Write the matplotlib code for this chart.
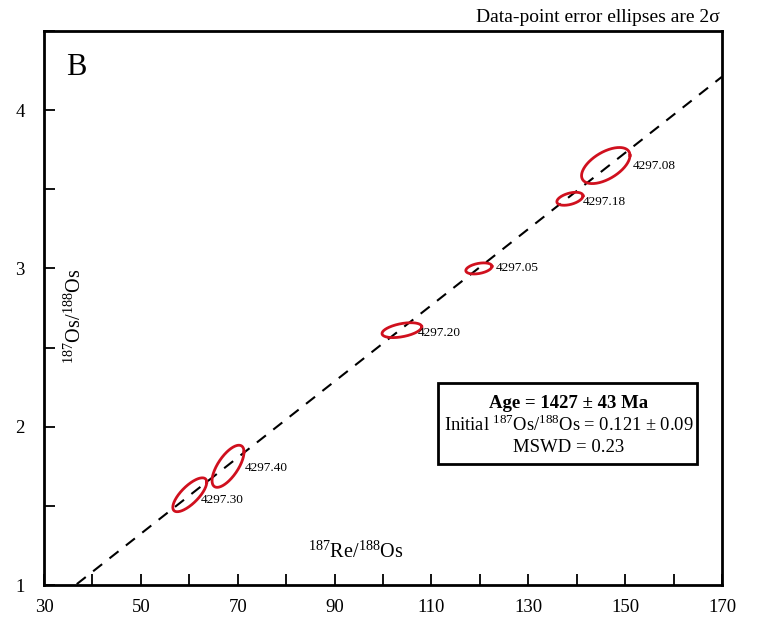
import matplotlib.pyplot as plt
import numpy as np
from matplotlib.patches import Rectangle

plt.rcParams['font.family'] = ['Liberation Serif', 'DejaVu Serif']
plt.rcParams['mathtext.fontset'] = 'custom'
plt.rcParams['mathtext.rm'] = 'Liberation Serif'

# sample data: 187Re/188Os, 187Os/188Os, 2-sigma half extents, error correlation
samples = ["4297.30", "4297.40", "4297.20", "4297.05", "4297.18", "4297.08"]
re_os = [60.1, 68.0, 103.9, 119.8, 138.6, 146.0]
os_os = [1.57, 1.75, 2.61, 3.00, 3.44, 3.65]
err_x = [3.5, 3.3, 4.1, 2.7, 2.7, 5.0]
err_y = [0.107, 0.133, 0.047, 0.035, 0.041, 0.114]
rho = [0.74, 0.68, 0.45, 0.38, 0.45, 0.56]
# label offsets (points) from ellipse centre
lab_dx = [8, 12, 11.5, 12, 9.5, 19.5]
lab_dy = [-4, -1, -2, 0, -2, 0]

# isochron
intercept = 0.121
slope = 0.02406

fig = plt.figure(figsize=(7.57, 6.22), dpi=100)
ax = fig.add_axes([44 / 757, 1 - 585 / 622, 678 / 757, 554 / 622])
ax.set_xlim(30, 170)
ax.set_ylim(1, 4.5)

xl = np.array([30, 170])
ax.plot(xl, intercept + slope * xl, color="black", lw=1.5, ls=(0, (5.5, 4.5)))

t = np.linspace(0, 2 * np.pi, 200)
for cx, cy, ex, ey, r, name, dx, dy in zip(re_os, os_os, err_x, err_y, rho,
                                          samples, lab_dx, lab_dy):
    xs = cx + ex * np.cos(t)
    ys = cy + ey * (r * np.cos(t) + np.sqrt(1 - r ** 2) * np.sin(t))
    ax.plot(xs, ys, color="#d0101e", lw=2.0)
    ax.annotate(name, (cx, cy), xytext=(dx, dy),
                textcoords="offset points", fontsize=9.5,
                ha="left", va="center")

ax.set_xticks(np.arange(30, 171, 10))
ax.set_xticklabels([str(v) if (v - 30) % 20 == 0 else "" for v in range(30, 171, 10)])
ax.set_yticks(np.arange(1, 4.51, 0.5))
ax.set_yticklabels(["1", "", "2", "", "3", "", "4", ""])
ax.tick_params(direction="in", length=8, width=1.3, labelsize=13.5, pad=10)
ax.tick_params(axis="y", pad=14)
for s in ax.spines.values():
    s.set_linewidth(2)

ax.text(0.032, 0.935, "B", transform=ax.transAxes, fontsize=22, va="center")
ax.text(0.459, 0.06, r"$^{187}$Re/$^{188}$Os", transform=ax.transAxes,
        fontsize=14.5, ha="center", va="center")
ax.text(0.046, 0.485, r"$^{187}$Os/$^{188}$Os", transform=ax.transAxes,
        fontsize=14.5, ha="center", va="center", rotation=90)

fig.text(720 / 757, 1 - 17 / 622, "Data-point error ellipses are 2σ",
         fontsize=14, ha="right", va="center")

# result box
ax.add_patch(Rectangle((0.581, 0.2184), 0.382, 0.146, transform=ax.transAxes,
                       fc="white", ec="black", lw=2, zorder=3))
ax.text(0.774, 0.327, "Age = 1427 ± 43 Ma", transform=ax.transAxes,
        fontsize=13.5, fontweight="bold", ha="center", va="center", zorder=4)
ax.text(0.774, 0.288, r"Initial $^{187}$Os/$^{188}$Os = 0.121 ± 0.09",
        transform=ax.transAxes, fontsize=13.3, ha="center", va="center", zorder=4)
ax.text(0.774, 0.249, "MSWD = 0.23", transform=ax.transAxes,
        fontsize=13.5, ha="center", va="center", zorder=4)

fig.savefig("out.png", dpi=100)
